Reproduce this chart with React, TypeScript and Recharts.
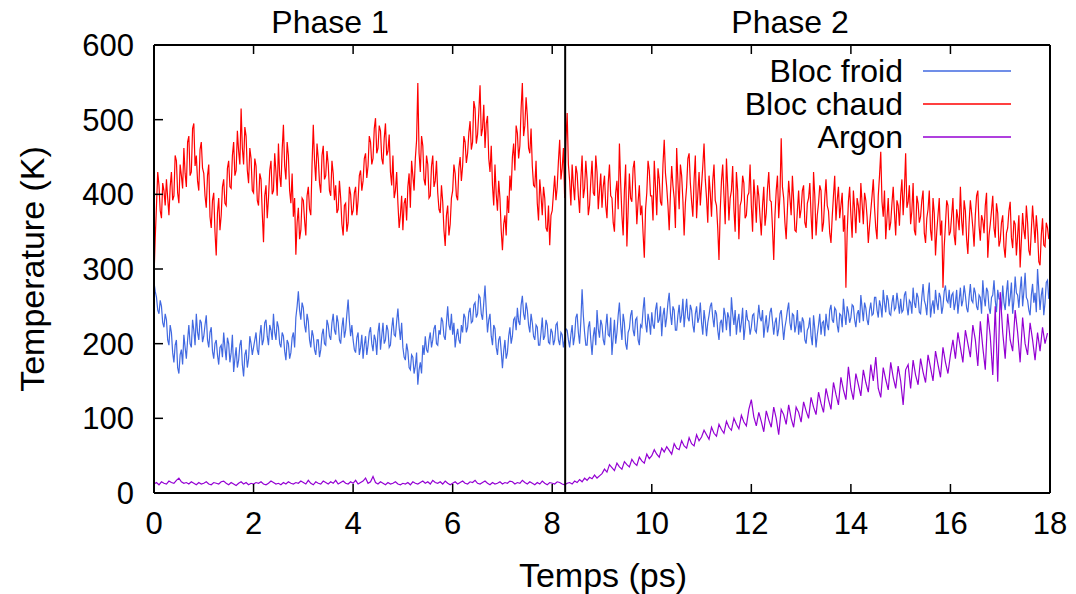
import { Line, LineChart, ReferenceLine, XAxis, YAxis } from "recharts";

// sampling steps, in ps
const BLOC_STEP = 0.025;
const ARGON_STEP = 0.05;
const X_TICKS = [0, 2, 4, 6, 8, 10, 12, 14, 16, 18];
const Y_TICKS = [0, 100, 200, 300, 400, 500, 600];
const PHASE_SPLIT = 8.26;

// one row = 1 ps
const BLOC_CHAUD = [
  290, 342, 385, 430, 412, 378, 368, 415, 405, 385, 420, 395, 372, 410, 430, 392, 398, 452, 445, 402, 388, 440, 425, 408, 462, 428, 410, 470, 478, 425, 430, 488, 495, 438, 452, 418, 405, 460, 470, 435,
  428, 398, 382, 425, 440, 370, 355, 392, 402, 350, 318, 375, 395, 352, 372, 410, 420, 388, 385, 435, 445, 410, 408, 452, 470, 425, 432, 485, 458, 440, 515, 462, 440, 490, 478, 432, 415, 462, 448, 405,
  402, 448, 438, 392, 385, 428, 420, 375, 336, 398, 412, 368, 395, 432, 445, 400, 405, 455, 430, 398, 468, 425, 410, 460, 493, 438, 420, 470, 452, 405, 388, 428, 370, 395, 319, 362, 382, 340, 352, 395,
  392, 365, 345, 398, 410, 380, 372, 440, 493, 445, 418, 468, 448, 415, 402, 452, 465, 420, 425, 458, 440, 405, 398, 445, 428, 392, 412, 375, 380, 418, 395, 360, 345, 385, 388, 350, 362, 410, 400, 372,
  378, 402, 410, 372, 392, 425, 432, 405, 418, 448, 455, 422, 438, 478, 470, 440, 448, 488, 502, 455, 462, 492, 485, 448, 440, 475, 495, 452, 458, 480, 430, 412, 452, 395, 405, 430, 388, 355, 372, 398,
  352, 388, 395, 365, 410, 428, 382, 445, 425, 405, 448, 472, 549, 455, 430, 478, 465, 420, 412, 452, 440, 395, 398, 438, 452, 410, 418, 445, 402, 380, 375, 412, 390, 352, 331, 372, 385, 345, 360, 395,
  405, 440, 428, 398, 392, 435, 450, 418, 438, 478, 470, 442, 455, 482, 498, 460, 470, 525, 515, 468, 480, 510, 546, 478, 488, 520, 462, 495, 505, 448, 430, 465, 412, 385, 440, 400, 378, 418, 395, 352,
  325, 360, 372, 345, 398, 375, 425, 405, 450, 468, 432, 492, 482, 448, 465, 515, 549, 478, 492, 530, 505, 462, 455, 488, 438, 412, 410, 445, 388, 365, 420, 398, 372, 410, 395, 355, 350, 385, 332, 372,
  378, 402, 425, 392, 410, 445, 473, 420, 435, 462, 395, 470, 509, 440, 418, 385, 440, 412, 392, 438, 428, 398, 375, 420, 452, 395, 408, 445, 420, 372, 385, 418, 445, 402, 398, 452, 430, 380, 405, 428,
  382, 410, 425, 385, 368, 415, 440, 398, 395, 362, 350, 402, 418, 380, 468, 415, 372, 345, 405, 440, 330, 378, 428, 395, 390, 435, 445, 405, 360, 390, 412, 372, 385, 348, 315, 380, 402, 445, 432, 398,
  398, 365, 445, 410, 372, 435, 420, 390, 385, 440, 473, 428, 410, 385, 352, 400, 438, 412, 395, 355, 462, 418, 380, 440, 425, 392, 345, 388, 410, 448, 455, 415, 390, 370, 420, 452, 368, 400, 430, 385,
  412, 438, 468, 420, 395, 362, 425, 402, 370, 418, 440, 392, 385, 355, 312, 378, 418, 440, 398, 360, 448, 410, 365, 395, 405, 438, 380, 350, 430, 405, 340, 385, 392, 425, 415, 368, 372, 398, 402, 440,
  385, 350, 420, 395, 362, 412, 398, 370, 345, 385, 410, 358, 375, 408, 430, 392, 390, 355, 312, 372, 405, 425, 368, 398, 475, 410, 395, 362, 340, 380, 418, 395, 372, 425, 392, 352, 350, 378, 405, 368,
  380, 405, 412, 362, 355, 388, 395, 415, 372, 340, 430, 398, 345, 372, 388, 412, 405, 350, 362, 395, 420, 385, 378, 348, 335, 370, 398, 425, 365, 392, 410, 368, 385, 402, 350, 372, 275, 348, 390, 410,
  372, 342, 405, 380, 348, 395, 385, 362, 415, 388, 360, 402, 392, 370, 335, 358, 378, 398, 420, 382, 355, 340, 398, 425, 457, 390, 370, 405, 340, 368, 395, 352, 362, 388, 410, 375, 345, 392, 385, 358,
  398, 420, 372, 405, 455, 382, 390, 412, 360, 378, 415, 352, 345, 398, 388, 362, 370, 392, 405, 348, 335, 368, 380, 405, 352, 338, 395, 375, 318, 350, 372, 395, 345, 365, 275, 330, 360, 392, 385, 345,
  350, 372, 395, 345, 332, 380, 368, 352, 410, 365, 345, 392, 378, 340, 320, 362, 392, 375, 355, 330, 372, 398, 405, 358, 338, 372, 365, 348, 385, 402, 315, 345, 360, 378, 398, 355, 342, 388, 375, 330,
  338, 362, 372, 330, 315, 348, 355, 378, 390, 342, 328, 365, 360, 318, 345, 372, 302, 338, 375, 352, 340, 385, 362, 325, 318, 352, 385, 360, 335, 372, 350, 310, 305, 345, 368, 332, 330, 362, 355, 340,
];

const BLOC_FROID = [
  282, 270, 262, 245, 240, 258, 250, 228, 222, 240, 232, 205, 198, 225, 215, 188, 175, 198, 205, 168, 160, 185, 192, 172, 212, 195, 180, 205, 225, 200, 195, 232, 218, 198, 240, 215, 205, 232, 228, 202,
  210, 225, 238, 205, 195, 215, 222, 190, 180, 200, 205, 185, 172, 195, 198, 182, 215, 195, 178, 208, 200, 175, 188, 212, 162, 180, 195, 168, 178, 198, 205, 172, 156, 185, 192, 168, 180, 210, 200, 185,
  195, 205, 215, 192, 185, 210, 225, 198, 205, 228, 232, 210, 198, 225, 218, 205, 240, 215, 205, 230, 222, 200, 195, 215, 210, 190, 178, 205, 200, 180, 188, 208, 215, 195, 235, 250, 270, 245, 232, 255,
  248, 225, 215, 240, 230, 205, 195, 218, 210, 192, 185, 205, 205, 182, 192, 212, 220, 200, 198, 232, 225, 210, 205, 228, 240, 218, 212, 238, 228, 205, 200, 222, 235, 208, 218, 240, 259, 230, 210, 225,
  205, 192, 188, 208, 215, 185, 195, 212, 180, 198, 210, 185, 198, 215, 222, 200, 190, 212, 205, 185, 215, 228, 192, 210, 228, 200, 205, 225, 218, 195, 198, 220, 235, 212, 210, 230, 247, 222, 205, 228,
  195, 182, 178, 200, 190, 168, 165, 185, 182, 160, 170, 188, 145, 165, 175, 160, 198, 185, 210, 192, 188, 205, 215, 195, 205, 220, 225, 200, 198, 218, 212, 235, 230, 210, 205, 228, 250, 225, 218, 240,
  212, 228, 195, 210, 220, 205, 200, 225, 215, 240, 235, 215, 222, 242, 248, 228, 230, 252, 255, 235, 240, 265, 262, 240, 232, 255, 278, 245, 215, 232, 240, 210, 198, 225, 220, 195, 185, 205, 210, 190,
  167, 190, 205, 180, 188, 210, 222, 200, 210, 232, 235, 218, 248, 230, 225, 252, 264, 240, 232, 255, 245, 225, 215, 240, 228, 210, 205, 225, 222, 198, 198, 215, 235, 205, 210, 232, 225, 202, 200, 220,
  215, 198, 205, 225, 228, 205, 198, 215, 212, 195, 205, 220, 218, 205, 195, 212, 225, 198, 210, 235, 240, 215, 200, 230, 273, 238, 215, 198, 198, 222, 230, 205, 185, 210, 222, 198, 245, 220, 208, 232,
  225, 205, 198, 222, 240, 212, 210, 235, 185, 208, 232, 200, 215, 238, 255, 225, 205, 240, 228, 200, 192, 215, 220, 238, 245, 218, 210, 232, 235, 205, 198, 225, 222, 245, 262, 228, 215, 240, 230, 212,
  242, 225, 220, 245, 255, 228, 232, 250, 210, 238, 248, 222, 235, 255, 268, 240, 225, 250, 245, 218, 218, 238, 252, 228, 238, 260, 222, 242, 260, 235, 230, 252, 245, 225, 215, 240, 250, 228, 235, 255,
  228, 212, 245, 230, 210, 228, 238, 250, 255, 235, 222, 245, 240, 218, 205, 228, 232, 215, 248, 238, 218, 242, 235, 210, 262, 240, 225, 245, 212, 230, 240, 215, 228, 248, 205, 222, 245, 232, 230, 212,
  222, 238, 240, 218, 215, 232, 252, 235, 230, 245, 208, 225, 238, 215, 225, 242, 248, 230, 212, 228, 235, 210, 220, 240, 245, 225, 205, 222, 232, 245, 255, 228, 218, 240, 238, 215, 225, 245, 212, 230,
  215, 235, 230, 205, 200, 218, 222, 235, 210, 198, 238, 220, 195, 212, 225, 240, 212, 228, 230, 210, 240, 225, 218, 245, 252, 232, 228, 248, 245, 225, 215, 240, 238, 222, 260, 240, 225, 250, 242, 228,
  235, 252, 250, 232, 222, 240, 245, 228, 265, 248, 230, 255, 248, 232, 225, 245, 255, 238, 240, 262, 262, 245, 235, 258, 250, 235, 272, 255, 242, 265, 258, 240, 238, 255, 265, 245, 248, 268, 255, 240,
  260, 242, 245, 265, 270, 250, 238, 258, 255, 240, 275, 255, 248, 268, 262, 242, 240, 262, 280, 258, 252, 238, 265, 282, 235, 250, 258, 240, 272, 255, 245, 268, 262, 240, 250, 270, 278, 258, 255, 272,
  248, 265, 268, 245, 255, 272, 240, 258, 275, 250, 258, 278, 265, 248, 242, 262, 280, 258, 255, 275, 268, 250, 245, 265, 262, 240, 285, 262, 250, 275, 270, 248, 240, 262, 265, 285, 258, 242, 272, 260,
  260, 245, 278, 255, 245, 268, 285, 250, 262, 282, 240, 258, 290, 268, 265, 248, 272, 290, 250, 270, 295, 262, 258, 245, 238, 265, 280, 255, 268, 242, 300, 272, 245, 265, 275, 238, 255, 282, 285, 260,
];

const ARGON = [
  12, 14, 11, 15, 13, 12, 16, 14, 13, 17, 20, 15, 13, 14, 12, 15, 13, 11, 14, 12,
  13, 15, 12, 11, 14, 13, 12, 15, 16, 13, 11, 14, 12, 10, 13, 15, 12, 14, 11, 13,
  12, 14, 13, 15, 12, 11, 13, 16, 14, 12, 13, 11, 14, 12, 15, 13, 12, 14, 13, 16,
  14, 12, 17, 13, 11, 15, 13, 12, 16, 14, 12, 15, 13, 17, 12, 14, 16, 13, 12, 15,
  13, 17, 12, 14, 16, 20, 13, 15, 22, 14, 12, 15, 13, 11, 14, 12, 13, 15, 12, 11,
  13, 12, 14, 11, 15, 13, 12, 14, 16, 13, 15, 12, 17, 14, 13, 15, 12, 16, 13, 11,
  13, 15, 12, 14, 16, 13, 12, 15, 14, 17, 13, 12, 14, 16, 13, 11, 14, 12, 13, 15,
  12, 14, 13, 16, 15, 12, 14, 13, 17, 14, 12, 15, 13, 11, 14, 12, 16, 13, 11, 14,
  13, 12, 15, 14, 12, 11, 13, 14, 12, 16, 14, 18, 15, 20, 17, 21, 19, 24, 20, 23,
  26, 32, 28, 38, 34, 30, 40, 35, 32, 42, 38, 35, 45, 40, 37, 48, 43, 40, 52, 46,
  50, 58, 52, 48, 60, 55, 62, 57, 52, 66, 60, 58, 70, 63, 60, 74, 66, 63, 78, 70,
  75, 84, 78, 72, 88, 80, 76, 92, 85, 80, 96, 88, 84, 100, 92, 86, 104, 95, 90, 112,
  125, 102, 90, 108, 96, 82, 110, 98, 88, 115, 100, 78, 112, 105, 92, 118, 100, 88, 115, 108,
  95, 122, 110, 100, 128, 115, 105, 135, 120, 108, 140, 125, 112, 148, 132, 118, 155, 138, 125, 169,
  140, 125, 160, 145, 130, 165, 148, 135, 172, 150, 182, 140, 128, 168, 152, 138, 175, 155, 140, 170,
  150, 118, 165, 172, 140, 178, 158, 145, 180, 162, 148, 185, 168, 150, 190, 172, 155, 195, 175, 160,
  185, 205, 180, 215, 195, 175, 218, 200, 182, 225, 205, 170, 230, 195, 165, 240, 210, 158, 250, 149,
  269, 215, 180, 240, 205, 190, 245, 215, 175, 235, 200, 185, 228, 205, 178, 215, 190, 222, 200, 214,
];

const SERIES = [
  { key: "froid", name: "Bloc froid", color: "#4169e1" },
  { key: "chaud", name: "Bloc chaud", color: "#ff0000" },
  { key: "argon", name: "Argon", color: "#9400d3" },
];

const blocData = BLOC_CHAUD.map((v, i) => ({
  t: Math.round(i * BLOC_STEP * 1000) / 1000,
  chaud: v,
  froid: BLOC_FROID[i],
}));

const argonData = ARGON.map((v, i) => ({
  t: Math.round(i * ARGON_STEP * 100) / 100,
  argon: v,
}));

const FONT = "'Liberation Sans', Arial, sans-serif";
const FS = 31;
const TICK_LEN = 9;

const BottomTick = ({ x, y, payload }: any) => (
  <g>
    <line x1={x} y1={y} x2={x} y2={y - TICK_LEN} stroke="#000" strokeWidth={1.5} />
    <text x={x} y={y + 41} textAnchor="middle" fontSize={FS} fontFamily={FONT} fill="#000">
      {payload.value}
    </text>
  </g>
);

const TopTick = ({ x, y }: any) => (
  <line x1={x} y1={y} x2={x} y2={y + TICK_LEN} stroke="#000" strokeWidth={1.5} />
);

const LeftTick = ({ x, y, payload }: any) => (
  <g>
    <line x1={x} y1={y} x2={x + TICK_LEN} y2={y} stroke="#000" strokeWidth={1.5} />
    <text x={x - 20} y={y + 11} textAnchor="end" fontSize={FS} fontFamily={FONT} fill="#000">
      {payload.value}
    </text>
  </g>
);

const RightTick = ({ x, y }: any) => (
  <line x1={x} y1={y} x2={x - TICK_LEN} y2={y} stroke="#000" strokeWidth={1.5} />
);

export default function App() {
  return (
    <div style={{ position: "absolute", left: 0, top: 0, width: 1076, height: 594, background: "#fff" }}>
      <LineChart width={1076} height={594} data={blocData} margin={{ top: 0, right: 0, bottom: 0, left: 0 }}>
        <XAxis
          xAxisId="bottom"
          dataKey="t"
          type="number"
          domain={[0, 18]}
          ticks={X_TICKS}
          height={101}
          tickSize={0}
          tickMargin={0}
          tick={<BottomTick />}
          axisLine={{ stroke: "#000", strokeWidth: 2 }}
          interval={0}
          allowDataOverflow
        />
        <XAxis
          xAxisId="top"
          orientation="top"
          dataKey="t"
          type="number"
          domain={[0, 18]}
          ticks={X_TICKS}
          height={45}
          tickSize={0}
          tickMargin={0}
          tick={<TopTick />}
          axisLine={{ stroke: "#000", strokeWidth: 2 }}
          interval={0}
          allowDataOverflow
        />
        <YAxis
          yAxisId="left"
          type="number"
          domain={[0, 600]}
          ticks={Y_TICKS}
          width={154}
          tickSize={0}
          tickMargin={0}
          tick={<LeftTick />}
          axisLine={{ stroke: "#000", strokeWidth: 2 }}
          interval={0}
        />
        <YAxis
          yAxisId="right"
          orientation="right"
          type="number"
          domain={[0, 600]}
          ticks={Y_TICKS}
          width={26}
          tickSize={0}
          tickMargin={0}
          tick={<RightTick />}
          axisLine={{ stroke: "#000", strokeWidth: 2 }}
          interval={0}
        />
        {SERIES.map((s) => (
          <Line
            key={s.key}
            xAxisId="bottom"
            yAxisId="left"
            data={s.key === "argon" ? argonData : undefined}
            dataKey={s.key}
            name={s.name}
            type="linear"
            stroke={s.color}
            strokeWidth={1.2}
            dot={false}
            activeDot={false}
            isAnimationActive={false}
          />
        ))}
        <ReferenceLine xAxisId="bottom" yAxisId="left" x={PHASE_SPLIT} stroke="#000" strokeWidth={2} />
      </LineChart>

      <svg
        width={1076}
        height={594}
        style={{ position: "absolute", left: 0, top: 0, pointerEvents: "none" }}
        fontFamily={FONT}
        fontSize={32}
      >
        <text x={330} y={33} textAnchor="middle">Phase 1</text>
        <text x={790} y={33} textAnchor="middle">Phase 2</text>
        <text x={603} y={587} textAnchor="middle" fontSize={34}>Temps (ps)</text>
        <text x={44} y={269} textAnchor="middle" fontSize={34} transform="rotate(-90 44 269)">
          Temperature (K)
        </text>
        {SERIES.map((s, i) => (
          <g key={s.key}>
            <text x={903} y={82 + i * 33} textAnchor="end">{s.name}</text>
            <line x1={923} x2={1011} y1={71 + i * 33} y2={71 + i * 33} stroke={s.color} strokeWidth={1.5} />
          </g>
        ))}
      </svg>
    </div>
  );
}
